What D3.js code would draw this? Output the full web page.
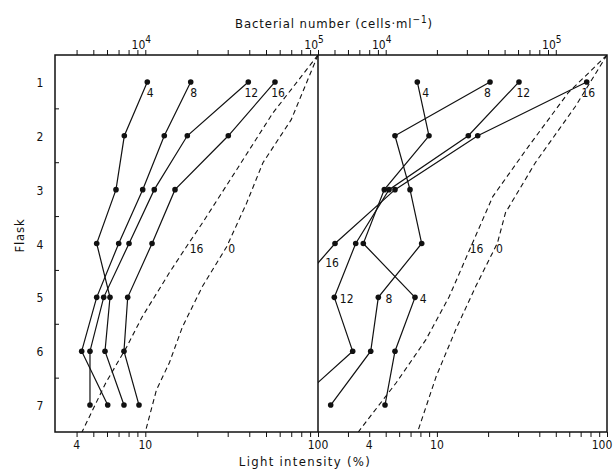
<!DOCTYPE html>
<html><head><meta charset="utf-8">
<script src="https://cdn.jsdelivr.net/npm/d3@7"></script>
<style>
body{margin:0;background:#fff}
svg{display:block}
text{font-family:"DejaVu Sans Condensed","DejaVu Sans",sans-serif;fill:#111}
</style>
</head><body><svg width="613" height="470"></svg>
<script>
// ---------- data ----------
const flasks = [1,2,3,4,5,6,7];
const flaskBounds = [1.5,2.5,3.5,4.5,5.5,6.5];
const seriesNames = ["4","8","12","16"];
// bacterial numbers (cells/ml) per flask, left panel
const leftB4  = [10270, 7560, 6766, 5230, 6246, 5843, 7525];
const leftB8  = [18320,12880, 9660, 7015, 5230, 4282, 6058];
const leftB12 = [39480,17510,11270, 8050, 5742, 4783, 4783];
const leftB16 = [56360,30240,14860,10940, 7908, 7525, 9195];
// right panel
const rightB4  = [15340,17970, 9814, 7385,14870,11340, 9908];
const rightB8  = [41050,11340,13900,16280, 9050, 8165, 4750];
const rightB12 = [60770,30600,10460, 6664, 4989, 6397, 2850];
const rightB16 = [151950,34750,11340, 5036, 2666, null, null];
// dashed light-intensity curves (%), at flask positions
const leftL16Pos = [0.5,1.58,2.63,3.62,4.06,4.54,5.36,5.92,6.59,7.5];
const leftL16    = [100,54.7,33.8,21.4,17.3,13.8,9.6,7.8,5.9,4.3];
const leftL0Pos  = [0.5,1.7,2.5,3.25,4.06,4.8,5.55,6.21,6.72,7.5];
const leftL0     = [100,70,48,38.6,29.6,21.4,16.4,13.8,11.6,10];
const rightL16Pos = [0.5,1.2,2.2,3.13,3.99,4.99,5.79,6.59,7.5];
const rightL16    = [100,59.2,34.5,21.3,16.2,11.8,8.6,5.75,3.45];
const rightL0Pos  = [0.5,1.46,2.5,3.43,3.99,4.8,5.6,6.47,7.5];
const rightL0     = [100,65,37.9,25.3,22.7,16.9,12.9,9.9,7.7];
// axis ticks
const topTicksLeft  = [4000,5000,6000,7000,8000,9000,10000,20000,30000,40000,50000,60000,70000,80000,90000,100000];
const topTicksRight = [5000,6000,7000,8000,9000,10000,20000,30000,40000,50000,60000,70000,80000,90000,100000];
const topLabelValues = [10000,100000];
const bottomTicksLeft  = [4,5,6,7,8,9,10,20,30,40,50,60,70,80,90,100];
const bottomTicksRight = [3,4,5,6,7,8,9,10,20,30,40,50,60,70,80,90,100];
const bottomLabelValues = [4,10,100];

// ---------- layout ----------
const svg = d3.select("svg");
const yTop = 55, yBot = 432, L0 = 55, M = 318, R1 = 607;
const y = d3.scaleLinear().domain([0.5,7.5]).range([yTop,yBot]);
const panels = [
  {id:"L", bx:d3.scaleLog().domain([3000,100000]).range([L0,M]),
   lx:d3.scaleLog().domain([3,100]).range([L0,M]),
   series:[leftB4,leftB8,leftB12,leftB16],
   dashes:[[leftL16Pos,leftL16],[leftL0Pos,leftL0]],
   topTicks:topTicksLeft, botTicks:bottomTicksLeft},
  {id:"R", bx:d3.scaleLog().domain([4000,200000]).range([M,R1]),
   lx:d3.scaleLog().domain([2,100]).range([M,R1]),
   series:[rightB4,rightB8,rightB12,rightB16],
   dashes:[[rightL16Pos,rightL16],[rightL0Pos,rightL0]],
   topTicks:topTicksRight, botTicks:bottomTicksRight}
];

const defs = svg.append("defs");
panels.forEach(p=>{
  const [a,b]=p.bx.range();
  defs.append("clipPath").attr("id","clip"+p.id).append("rect")
    .attr("x",a).attr("y",yTop).attr("width",b-a).attr("height",yBot-yTop);
});

panels.forEach(p=>{
  const gt = svg.append("g").attr("transform",`translate(0,${yTop})`)
    .call(d3.axisTop(p.bx).tickValues(p.topTicks).tickSize(5).tickFormat(""));
  gt.select(".domain").remove();
  gt.selectAll("line").attr("stroke","#111");
  topLabelValues.forEach(v=>{
    const t = svg.append("text").attr("x",p.bx(v)-4).attr("y",49)
      .attr("text-anchor","middle").style("font-size","12px");
    t.append("tspan").text("10");
    t.append("tspan").attr("dy",-6).style("font-size","10px").text(Math.round(Math.log10(v)));
  });
  const gb = svg.append("g").attr("transform",`translate(0,${yBot})`)
    .call(d3.axisBottom(p.lx).tickValues(p.botTicks).tickSize(5).tickFormat(""));
  gb.select(".domain").remove();
  gb.selectAll("line").attr("stroke","#111");
  bottomLabelValues.forEach(v=>{
    const xx = Math.min(p.lx(v), 602);
    svg.append("text").attr("x",xx).attr("y",449)
      .attr("text-anchor","middle").style("font-size","12px").text(v);
  });
  const dl = d3.line().x(d=>p.lx(d[1])).y(d=>y(d[0]));
  p.dashes.forEach(([pos,val])=>{
    svg.append("path").attr("clip-path",`url(#clip${p.id})`)
      .attr("d",dl(pos.map((q,i)=>[q,val[i]])))
      .attr("fill","none").attr("stroke","#111").attr("stroke-width",1.1)
      .attr("stroke-dasharray","5,3.5");
  });
  const sl = d3.line().defined(d=>d[1]!=null).x(d=>p.bx(d[1])).y(d=>y(d[0]));
  const gs = svg.append("g").attr("clip-path",`url(#clip${p.id})`);
  p.series.forEach(s=>{
    const pts = flasks.map((f,i)=>[f,s[i]]);
    gs.append("path").attr("d",sl(pts)).attr("fill","none")
      .attr("stroke","#111").attr("stroke-width",1.2);
    gs.selectAll(null).data(pts.filter(d=>d[1]!=null)).enter().append("circle")
      .attr("cx",d=>p.bx(d[1])).attr("cy",d=>y(d[0])).attr("r",2.8).attr("fill","#111");
  });
});

svg.append("rect").attr("x",L0).attr("y",yTop).attr("width",R1-L0).attr("height",yBot-yTop)
  .attr("fill","none").attr("stroke","#111").attr("stroke-width",1.5);
svg.append("line").attr("x1",M).attr("x2",M).attr("y1",yTop).attr("y2",yBot)
  .attr("stroke","#111").attr("stroke-width",1.5);

flaskBounds.forEach(b=>{
  svg.append("line").attr("x1",L0).attr("x2",L0+4).attr("y1",y(b)).attr("y2",y(b)).attr("stroke","#111");
});
flasks.forEach(f=>{
  svg.append("text").attr("x",40).attr("y",y(f)+5).attr("text-anchor","middle")
    .style("font-size","12px").text(f);
});

const PL = panels[0], PR = panels[1];
const lblL = [3,3,3,3];
PL.series.forEach((s,i)=>{
  svg.append("text").attr("x",PL.bx(s[0])+lblL[i]).attr("y",y(1)+15).attr("text-anchor","middle")
    .style("font-size","12px").text(seriesNames[i]);
});
const lblR1 = [8.4,-2.7,4.3,1.6];
PR.series.forEach((s,i)=>{
  svg.append("text").attr("x",PR.bx(s[0])+lblR1[i]).attr("y",y(1)+15).attr("text-anchor","middle")
    .style("font-size","12px").text(seriesNames[i]);
});
const lblR5 = [8.3,10.7,12.4];
[0,1,2].forEach(i=>{
  svg.append("text").attr("x",PR.bx(PR.series[i][4])+lblR5[i]).attr("y",y(5)+6).attr("text-anchor","middle")
    .style("font-size","12px").text(seriesNames[i]);
});
svg.append("text").attr("x",M+14).attr("y",y(4.37)+4).attr("text-anchor","middle")
  .style("font-size","12px").text("16");
const dashLabels = [[PL,19.8,"16"],[PL,31.6,"0"],[PR,17.1,"16"],[PR,23.3,"0"]];
dashLabels.forEach(([p,v,t])=>{
  svg.append("text").attr("x",p.lx(v)).attr("y",y(4.1)+4).attr("text-anchor","middle")
    .style("font-size","12px").text(t);
});

const tt = svg.append("text").attr("x",334).attr("y",28).attr("text-anchor","middle")
  .style("font-size","13px").style("letter-spacing","0.9px");
tt.append("tspan").text("Bacterial number  (cells\u00b7ml");
tt.append("tspan").attr("dy",-5).style("font-size","10px").text("\u22121");
tt.append("tspan").attr("dy",5).text(")");
svg.append("text").attr("x",305).attr("y",466).attr("text-anchor","middle")
  .style("font-size","13px").style("letter-spacing","1.3px")
  .text("Light intensity  (%)");
svg.append("text").attr("transform",`translate(24,${y(4)-8}) rotate(-90)`).attr("text-anchor","middle")
  .style("font-size","13px").style("letter-spacing","0.8px").text("Flask");
</script>
</body></html>
